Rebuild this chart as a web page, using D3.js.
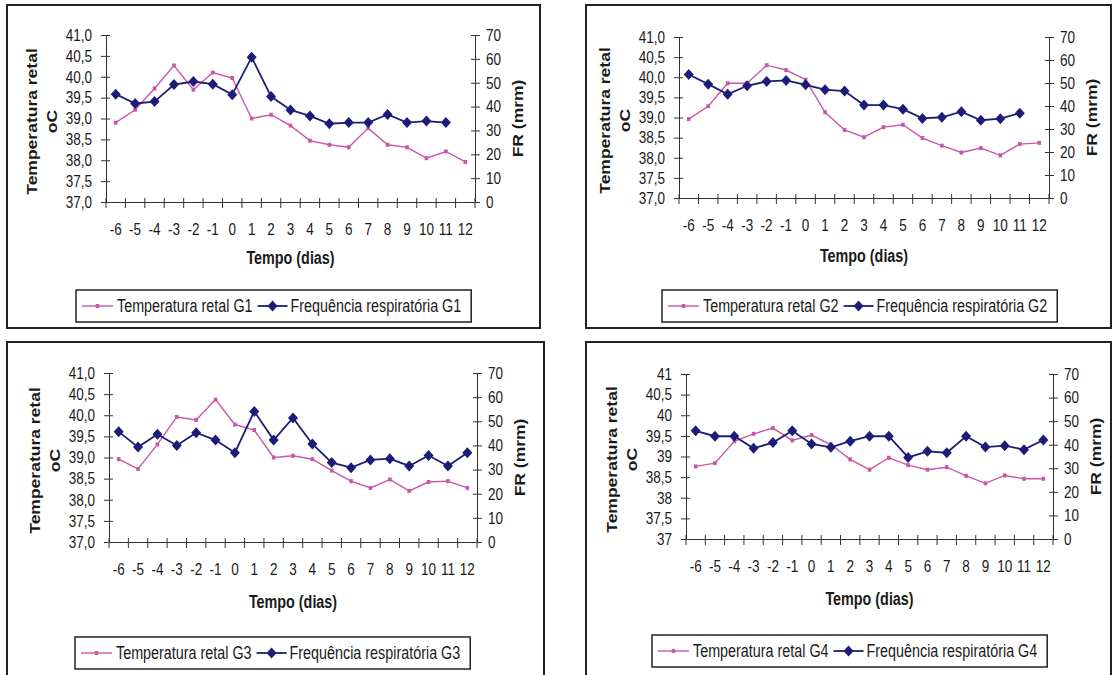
<!DOCTYPE html>
<html>
<head>
<meta charset="utf-8">
<script src="https://cdn.jsdelivr.net/npm/d3@7"></script>
<style>
  body { margin: 0; background: #fff; }
  svg { display: block; font-family: "Liberation Sans", Arial, sans-serif; }
</style>
</head>
<body>
<svg id="chart" width="1112" height="675"></svg>
<script>
// days relative to the event
const days = ["-6", "-5", "-4", "-3", "-2", "-1", "0", "1", "2", "3", "4", "5", "6", "7", "8", "9", "10", "11", "12"];

const tempTicks = [37, 37.5, 38, 38.5, 39, 39.5, 40, 40.5, 41];
const frTicks = [0, 10, 20, 30, 40, 50, 60, 70];

// temperatura retal (oC) and frequencia respiratoria (mrm), per group
const tempG1 = [38.90, 39.21, 39.72, 40.27, 39.69, 40.10, 39.97, 39.00, 39.09, 38.83, 38.47, 38.37, 38.31, 38.77, 38.37, 38.31, 38.05, 38.21, 37.96];
const frG1 = [45.2, 41.3, 42.1, 49.2, 50.5, 49.4, 45.0, 60.7, 44.2, 38.6, 36.1, 32.8, 33.3, 33.3, 36.7, 33.3, 33.9, 33.3, null];

const tempG2 = [38.96, 39.28, 39.85, 39.85, 40.30, 40.18, 39.94, 39.13, 38.69, 38.51, 38.76, 38.82, 38.49, 38.30, 38.13, 38.24, 38.06, 38.34, 38.37];
const frG2 = [53.7, 49.5, 45.1, 48.8, 50.7, 51.1, 49.2, 47.1, 46.5, 40.4, 40.4, 38.6, 34.6, 35.1, 37.5, 33.8, 34.5, 36.9, null];

const tempG3 = [38.96, 38.73, 39.31, 39.96, 39.89, 40.37, 39.78, 39.65, 39.00, 39.04, 38.96, 38.69, 38.44, 38.28, 38.48, 38.21, 38.42, 38.44, 38.28];
const frG3 = [45.7, 39.3, 44.6, 40.0, 45.3, 42.2, 37.0, 54.1, 42.2, 51.4, 40.6, 32.9, 30.8, 34.0, 34.5, 31.5, 35.8, 31.5, 37.0];

const tempG4 = [38.76, 38.84, 39.37, 39.55, 39.69, 39.39, 39.52, 39.29, 38.93, 38.68, 38.97, 38.79, 38.68, 38.74, 38.53, 38.35, 38.54, 38.46, 38.46];
const frG4 = [45.9, 43.6, 43.6, 38.5, 40.9, 45.9, 40.3, 38.9, 41.5, 43.6, 43.6, 34.6, 37.2, 36.6, 43.6, 39.0, 39.6, 37.9, 42.0];

const PINK = "#c957a9";
const NAVY = "#1c1c78";
const INK = "#1a1a1a";
const SQ = "scale(0.82,1)"; // the original figure is squeezed horizontally

const fmtDec = (v) => d3.format(".1f")(v).replace(".", ",");
const fmtPlain = (v) => String(v).replace(".", ",");

const panels = [
  { g: "G1", temp: tempG1, fr: frG1, box: [7, 5, 540, 328], x0: 106, x1: 475, y0: 35, y1: 202, lx: 76, ly: 290, ty: 264, fmt: fmtDec },
  { g: "G2", temp: tempG2, fr: frG2, box: [586, 5, 1111, 328], x0: 679, x1: 1049, y0: 37, y1: 198, lx: 662, ly: 290, ty: 262, fmt: fmtDec },
  { g: "G3", temp: tempG3, fr: frG3, box: [7, 342, 544, 676], x0: 109, x1: 477, y0: 373, y1: 542, lx: 75, ly: 637, ty: 608, fmt: fmtDec },
  { g: "G4", temp: tempG4, fr: frG4, box: [586, 342, 1111, 676], x0: 686, x1: 1053, y0: 374, y1: 539, lx: 652, ly: 635, ty: 605, fmt: fmtPlain }
];

const svg = d3.select("#chart");
svg.append("rect").attr("width", 1112).attr("height", 675).attr("fill", "#fff");

const diamond = "M0,-5.5L5,0L0,5.5L-5,0Z";

const styleAxis = (ax) => {
  ax.attr("font-size", 16.5).attr("font-family", null);
  ax.selectAll(".domain").attr("stroke", "#333");
  ax.selectAll(".tick line").attr("stroke", "#333");
  ax.selectAll(".tick text").attr("fill", INK);
};

const drawPanel = (p) => {
  const g = svg.append("g");
  const [bx0, by0, bx1, by1] = p.box;
  g.append("rect")
    .attr("x", bx0).attr("y", by0)
    .attr("width", bx1 - bx0).attr("height", by1 - by0)
    .attr("fill", "none").attr("stroke", "#222").attr("stroke-width", 2);

  const x = d3.scaleBand().domain(days).range([p.x0, p.x1]);
  const yT = d3.scaleLinear().domain([37, 41]).range([p.y1, p.y0]);
  const yF = d3.scaleLinear().domain([0, 70]).range([p.y1, p.y0]);

  // left axis
  const la = g.append("g").attr("transform", `translate(${p.x0},0)`)
    .call(d3.axisLeft(yT).tickValues(tempTicks).tickFormat(p.fmt).tickSize(5).tickSizeOuter(0));
  styleAxis(la);
  la.selectAll(".tick line").attr("x1", 4);
  la.selectAll(".tick text").attr("x", 0).attr("dy", "0.32em")
    .attr("transform", `translate(-14,0) ${SQ}`);

  // right axis
  const ra = g.append("g").attr("transform", `translate(${p.x1},0)`)
    .call(d3.axisRight(yF).tickValues(frTicks).tickSize(5).tickSizeOuter(0));
  styleAxis(ra);
  ra.selectAll(".tick line").attr("x1", -4);
  ra.selectAll(".tick text").attr("x", 0).attr("dy", "0.32em")
    .attr("transform", `translate(11,0) ${SQ}`);

  // bottom axis, labels centred in the bands
  const ba = g.append("g").attr("transform", `translate(0,${p.y1})`)
    .call(d3.axisBottom(x).tickSize(0).tickSizeOuter(0));
  styleAxis(ba);
  ba.selectAll(".tick text").attr("y", 0).attr("dy", "0.71em")
    .attr("transform", `translate(0,21) ${SQ}`);

  // tick marks on the band boundaries
  const bounds = days.map((d) => x(d)).concat([p.x1]);
  g.selectAll("line.xt").data(bounds).enter().append("line")
    .attr("class", "xt")
    .attr("x1", (v) => v).attr("x2", (v) => v)
    .attr("y1", p.y1 - 4).attr("y2", p.y1 + 6)
    .attr("stroke", "#333");

  const cx = (i) => x(days[i]) + x.bandwidth() / 2;
  const lineOf = (scale) => d3.line()
    .defined((v) => v != null)
    .x((v, i) => cx(i))
    .y((v) => scale(v));

  // temperature
  g.append("path").datum(p.temp)
    .attr("d", lineOf(yT)).attr("fill", "none")
    .attr("stroke", PINK).attr("stroke-width", 1.4);
  g.selectAll("rect.tm").data(p.temp).enter().append("rect")
    .attr("class", "tm")
    .attr("x", (v, i) => cx(i) - 1.8).attr("y", (v) => yT(v) - 2)
    .attr("width", 3.6).attr("height", 4)
    .attr("fill", PINK);

  // respiratory frequency
  g.append("path").datum(p.fr)
    .attr("d", lineOf(yF)).attr("fill", "none")
    .attr("stroke", NAVY).attr("stroke-width", 1.8);
  g.selectAll("path.fm").data(p.fr.map((v, i) => ({ v, i })).filter((d) => d.v != null))
    .enter().append("path")
    .attr("class", "fm")
    .attr("d", diamond)
    .attr("transform", (d) => `translate(${cx(d.i)},${yF(d.v)})`)
    .attr("fill", NAVY);

  // axis titles
  g.append("text")
    .attr("transform", `translate(${(p.x0 + p.x1) / 2},${p.ty}) ${SQ}`)
    .attr("text-anchor", "middle").attr("font-size", 17.5).attr("font-weight", "bold")
    .attr("fill", INK).text("Tempo (dias)");

  const my = (p.y0 + p.y1) / 2;
  [["Temperatura retal", -74], ["oC", -54]].forEach(([t, dx]) => {
    g.append("text")
      .attr("transform", `translate(${p.x0 + dx},${my + 3}) ${SQ} rotate(-90)`)
      .attr("text-anchor", "middle").attr("dy", "0.35em")
      .attr("font-size", 17.5).attr("font-weight", "bold")
      .attr("fill", INK).text(t);
  });
  g.append("text")
    .attr("transform", `translate(${p.x1 + 43},${my}) ${SQ} rotate(-90)`)
    .attr("text-anchor", "middle").attr("dy", "0.35em")
    .attr("font-size", 17.5).attr("font-weight", "bold")
    .attr("fill", INK).text("FR (mrm)");

  // legend
  const lg = g.append("g").attr("transform", `translate(${p.lx},${p.ly})`);
  const box = lg.append("rect").attr("height", 32)
    .attr("fill", "#fff").attr("stroke", "#222").attr("stroke-width", 1.5);
  const mid = 16;
  let pos = 6;

  lg.append("line").attr("x1", pos).attr("x2", pos + 31).attr("y1", mid).attr("y2", mid)
    .attr("stroke", PINK).attr("stroke-width", 1.4);
  lg.append("rect").attr("x", pos + 13.7).attr("y", mid - 2).attr("width", 3.6).attr("height", 4).attr("fill", PINK);
  const t1 = lg.append("text")
    .attr("transform", `translate(${pos + 35},${mid}) ${SQ}`)
    .attr("dy", "0.35em").attr("font-size", 17.5).attr("fill", INK)
    .text(`Temperatura retal ${p.g}`);
  pos += 35 + t1.node().getComputedTextLength() * 0.82 + 5;

  lg.append("line").attr("x1", pos).attr("x2", pos + 30).attr("y1", mid).attr("y2", mid)
    .attr("stroke", NAVY).attr("stroke-width", 1.8);
  lg.append("path").attr("d", diamond).attr("transform", `translate(${pos + 15},${mid})`).attr("fill", NAVY);
  const t2 = lg.append("text")
    .attr("transform", `translate(${pos + 33},${mid}) ${SQ}`)
    .attr("dy", "0.35em").attr("font-size", 17.5).attr("fill", INK)
    .text(`Frequência respiratória ${p.g}`);
  pos += 33 + t2.node().getComputedTextLength() * 0.82 + 10;
  box.attr("width", pos);
};

panels.forEach(drawPanel);
</script>
</body>
</html>
